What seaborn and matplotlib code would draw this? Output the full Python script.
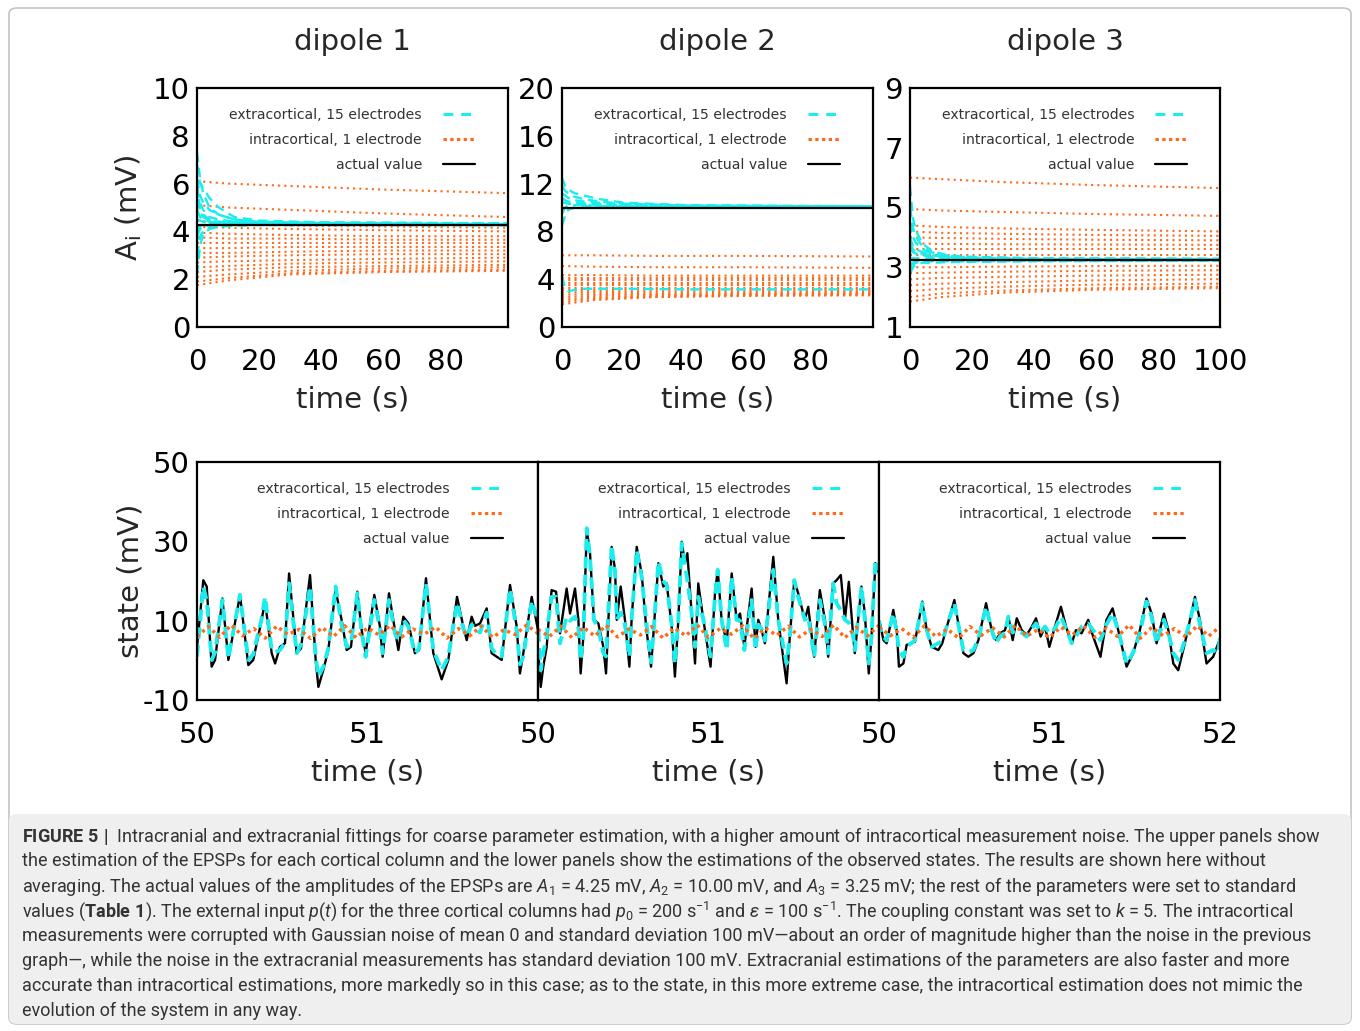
import numpy as np
import pandas as pd
import matplotlib
matplotlib.use("Agg")
import matplotlib.pyplot as plt
import seaborn as sns
from matplotlib.lines import Line2D
from matplotlib.patches import FancyBboxPatch

# ---------------- data ----------------
# upper row: parameter estimates A_i (mV) vs time (s)
actual_A = [4.25, 10.00, 3.25]
fit_t = [0, 1, 2, 4, 7, 12, 20, 40, 100]      # knots for extracortical fits
intra_t = [0, 10, 30, 60, 100]                # knots for intracortical fits

extra_A1 = [
    [7.3, 6.2, 5.6, 5.0, 4.7, 4.5, 4.4, 4.35, 4.32],
    [6.8, 6.0, 5.8, 5.4, 5.0, 4.6, 4.45, 4.38, 4.33],
    [6.2, 5.5, 5.2, 4.9, 4.7, 4.5, 4.4, 4.35, 4.30],
    [6.0, 4.8, 4.6, 4.45, 4.4, 4.4, 4.4, 4.37, 4.34],
    [5.8, 5.2, 4.9, 4.6, 4.5, 4.4, 4.35, 4.32, 4.30],
    [5.3, 4.9, 4.7, 4.5, 4.4, 4.35, 4.32, 4.30, 4.28],
    [4.9, 4.6, 4.5, 4.4, 4.35, 4.32, 4.30, 4.30, 4.28],
    [4.5, 4.45, 4.4, 4.35, 4.33, 4.30, 4.30, 4.28, 4.27],
    [4.0, 4.2, 4.3, 4.35, 4.35, 4.33, 4.30, 4.30, 4.30],
    [3.8, 4.1, 4.2, 4.25, 4.3, 4.3, 4.3, 4.28, 4.27],
    [3.0, 3.8, 4.0, 4.15, 4.2, 4.25, 4.27, 4.27, 4.26],
    [2.2, 3.4, 3.9, 4.1, 4.2, 4.25, 4.27, 4.27, 4.26],
]
extra_A2 = [
    [12.5, 11.8, 11.5, 11.2, 11.0, 10.7, 10.4, 10.2, 10.1],
    [11.8, 11.4, 11.2, 10.9, 10.7, 10.5, 10.3, 10.15, 10.08],
    [11.2, 11.0, 10.8, 10.6, 10.5, 10.4, 10.3, 10.15, 10.08],
    [10.8, 10.6, 10.5, 10.4, 10.35, 10.3, 10.2, 10.1, 10.05],
    [10.4, 10.4, 10.3, 10.3, 10.25, 10.2, 10.15, 10.1, 10.05],
    [9.5, 10.0, 10.2, 10.2, 10.2, 10.15, 10.1, 10.1, 10.05],
    [8.5, 9.3, 9.8, 10.0, 10.1, 10.1, 10.1, 10.05, 10.03],
    [4.2, 3.3, 3.0, 3.1, 3.2, 3.2, 3.2, 3.15, 3.15],
]
extra_A3 = [
    [5.7, 4.6, 4.2, 3.8, 3.55, 3.4, 3.33, 3.30, 3.28],
    [5.0, 4.3, 4.0, 3.7, 3.5, 3.38, 3.32, 3.28, 3.27],
    [4.5, 4.0, 3.8, 3.6, 3.45, 3.35, 3.30, 3.28, 3.27],
    [4.0, 3.7, 3.6, 3.5, 3.4, 3.33, 3.30, 3.27, 3.26],
    [3.8, 3.6, 3.5, 3.45, 3.4, 3.37, 3.35, 3.30, 3.28],
    [3.6, 3.5, 3.45, 3.4, 3.35, 3.30, 3.28, 3.26, 3.26],
    [3.3, 3.3, 3.3, 3.3, 3.3, 3.28, 3.27, 3.26, 3.25],
    [3.1, 3.15, 3.2, 3.2, 3.22, 3.22, 3.22, 3.22, 3.23],
    [3.0, 3.1, 3.15, 3.18, 3.2, 3.2, 3.2, 3.22, 3.23],
    [2.8, 3.0, 3.1, 3.15, 3.15, 3.17, 3.18, 3.2, 3.22],
]

intra_A1 = [
    [6.1, 6.0, 5.9, 5.75, 5.6],
    [5.1, 5.0, 4.9, 4.75, 4.6],
    [4.45, 4.35, 4.25, 4.2, 4.15],
    [4.2, 4.15, 4.1, 4.05, 4.0],
    [3.95, 3.9, 3.85, 3.8, 3.8],
    [3.75, 3.7, 3.7, 3.65, 3.65],
    [3.5, 3.5, 3.5, 3.5, 3.5],
    [3.3, 3.3, 3.35, 3.35, 3.35],
    [3.1, 3.1, 3.15, 3.2, 3.2],
    [2.9, 2.95, 3.0, 3.05, 3.05],
    [2.7, 2.75, 2.8, 2.85, 2.9],
    [2.5, 2.55, 2.65, 2.7, 2.75],
    [2.3, 2.4, 2.5, 2.55, 2.6],
    [2.1, 2.2, 2.35, 2.45, 2.5],
    [1.9, 2.05, 2.25, 2.35, 2.4],
    [1.75, 1.95, 2.2, 2.3, 2.35],
]
intra_A2 = [
    [6.0, 6.0, 5.95, 5.95, 5.9],
    [5.1, 5.05, 5.0, 5.0, 4.95],
    [4.35, 4.35, 4.3, 4.3, 4.3],
    [4.1, 4.1, 4.1, 4.1, 4.1],
    [3.9, 3.9, 3.9, 3.9, 3.9],
    [3.7, 3.7, 3.7, 3.7, 3.7],
    [3.5, 3.5, 3.5, 3.5, 3.5],
    [3.3, 3.3, 3.3, 3.3, 3.3],
    [3.1, 3.1, 3.12, 3.15, 3.15],
    [2.9, 2.92, 2.95, 3.0, 3.0],
    [2.7, 2.75, 2.8, 2.85, 2.9],
    [2.5, 2.6, 2.7, 2.75, 2.8],
    [2.3, 2.45, 2.6, 2.7, 2.75],
    [2.1, 2.35, 2.55, 2.65, 2.7],
    [1.9, 2.25, 2.5, 2.6, 2.65],
]
intra_A3 = [
    [6.0, 5.95, 5.85, 5.75, 5.65],
    [4.95, 4.9, 4.85, 4.78, 4.72],
    [4.4, 4.35, 4.3, 4.25, 4.2],
    [4.2, 4.15, 4.12, 4.08, 4.05],
    [4.0, 3.98, 3.95, 3.92, 3.9],
    [3.8, 3.78, 3.77, 3.76, 3.75],
    [3.6, 3.6, 3.6, 3.6, 3.6],
    [3.4, 3.4, 3.4, 3.4, 3.4],
    [3.0, 3.0, 3.02, 3.04, 3.05],
    [2.8, 2.82, 2.85, 2.88, 2.9],
    [2.6, 2.64, 2.68, 2.72, 2.75],
    [2.4, 2.45, 2.5, 2.56, 2.6],
    [2.2, 2.28, 2.35, 2.42, 2.45],
    [2.0, 2.12, 2.22, 2.3, 2.35],
    [1.85, 2.0, 2.15, 2.25, 2.3],
]

# lower row: observed state (mV), time offset from 50 s
state_t1 = [0.000, 0.008, 0.037, 0.057, 0.086, 0.106, 0.149, 0.184, 0.252, 0.301,
            0.330, 0.379, 0.399, 0.438, 0.458, 0.487, 0.516, 0.540, 0.585, 0.610,
            0.663, 0.696, 0.712, 0.741, 0.770, 0.813, 0.848, 0.878, 0.903, 0.940,
            0.966, 0.989, 1.040, 1.073, 1.089, 1.126, 1.161, 1.181, 1.210, 1.240,
            1.278, 1.302, 1.343, 1.386, 1.435, 1.474, 1.525, 1.562, 1.582, 1.611,
            1.630, 1.660, 1.699, 1.728, 1.758, 1.787, 1.836, 1.875, 1.894, 1.914,
            1.963, 2.000]
actual_1 = [3.4, 6.8, 20.2, 18.6, -1.6, 0.1, 15.6, 0.1, 16.5, -1.2,
            0.1, 10.2, 14.8, 1.8, -0.8, 3.4, 4.3, 21.9, 1.8, 3.0,
            21.5, 0.1, -6.7, -2.4, 2.6, 17.7, 10.2, 2.6, 3.4, 17.3,
            7.6, 1.8, 16.5, 8.5, 0.9, 16.9, 7.6, 2.6, 11.0, 9.3,
            1.8, 2.6, 20.7, 1.8, -4.8, 0.1, 16.0, 8.5, 5.1, 11.0,
            8.7, 9.3, 13.1, 1.8, 0.9, 0.1, 19.0, 8.5, -3.3, 1.8,
            16.0, 7.6]
extra_1 = [0.9, 5.0, 18.6, 15.0, 0.1, 2.0, 15.2, 0.5, 16.5, 0.1,
           1.5, 10.5, 16.0, 2.6, 2.0, 2.6, 4.5, 19.4, 1.8, 4.0,
           18.6, 1.0, -4.1, -1.6, 3.0, 18.6, 9.0, 3.4, 4.0, 16.9,
           7.0, 0.9, 15.2, 8.0, 1.8, 15.2, 6.8, 5.0, 10.2, 8.5,
           1.8, 3.0, 19.4, 2.6, -2.5, 0.9, 14.5, 8.0, 6.0, 9.0,
           8.0, 7.0, 12.0, 3.0, 1.5, 1.0, 18.0, 7.5, -1.0, 1.0,
           15.0, 10.0]

state_t2 = [0.002, 0.016, 0.031, 0.051, 0.061, 0.080, 0.106, 0.129, 0.168, 0.188,
            0.217, 0.237, 0.250, 0.266, 0.286, 0.305, 0.328, 0.354, 0.383, 0.399,
            0.432, 0.452, 0.462, 0.485, 0.510, 0.536, 0.549, 0.579, 0.608, 0.634,
            0.663, 0.680, 0.706, 0.735, 0.755, 0.784, 0.803, 0.823, 0.843, 0.862,
            0.876, 0.901, 0.921, 0.940, 0.970, 1.012, 1.038, 1.054, 1.077, 1.107,
            1.136, 1.165, 1.185, 1.210, 1.253, 1.276, 1.292, 1.311, 1.331, 1.380,
            1.409, 1.458, 1.477, 1.503, 1.526, 1.565, 1.585, 1.620, 1.653, 1.683,
            1.702, 1.731, 1.751, 1.776, 1.800, 1.823, 1.849, 1.858, 1.897, 1.917,
            1.940, 1.956, 1.979, 2.000]
actual_2 = [1.8, -6.7, -1.6, 3.4, 9.3, 17.7, 17.3, 6.8, 18.1, 11.8,
            18.1, 10.2, -3.3, 6.0, 32.9, 27.0, 10.2, 9.3, 3.4, -3.3,
            28.6, 22.8, 10.2, 18.6, 10.2, -1.6, 10.2, 28.6, 21.9, 8.5,
            -1.6, 8.5, 24.5, 18.6, 19.4, 8.5, -4.1, 10.2, 29.9, 24.5,
            27.0, 11.8, -0.8, 19.4, 10.2, -1.6, 16.9, 22.8, 10.2, 4.3,
            21.9, 10.2, 11.8, 3.4, 18.1, 3.4, 10.2, 7.6, 4.3, 26.1,
            10.2, -5.8, 6.0, 20.2, 16.9, 10.2, 13.5, 0.9, 17.7, 10.2,
            0.9, 19.4, 20.2, 21.5, 10.2, 19.8, 6.0, 1.8, 18.6, 11.8,
            -3.3, 6.0, 24.5, 22.0]
extra_2 = [7.6, -2.5, 2.0, 6.0, 10.2, 16.0, 16.0, 4.3, 11.0, 10.0,
           11.0, 8.0, 0.1, 6.0, 33.3, 26.0, 10.2, 8.0, 1.8, 1.0,
           29.0, 22.0, 10.2, 12.0, 9.0, 0.9, 10.2, 27.8, 21.0, 10.2,
           -0.5, 8.5, 24.9, 20.0, 19.0, 9.0, -0.8, 10.2, 29.5, 24.0,
           20.2, 12.0, 3.4, 16.0, 10.2, 1.0, 16.0, 22.8, 10.2, 2.6,
           21.0, 10.2, 10.0, 2.6, 15.2, 2.6, 9.0, 8.0, 5.0, 22.8,
           10.2, -0.8, 6.0, 20.2, 16.0, 10.2, 11.0, 0.9, 15.2, 9.0,
           1.8, 19.4, 14.4, 12.7, 10.2, 9.5, 6.0, 2.6, 18.6, 10.2,
           -0.8, 6.0, 25.3, 22.8]

state_t3 = [0.000, 0.006, 0.026, 0.045, 0.084, 0.104, 0.117, 0.143, 0.162, 0.211,
            0.254, 0.280, 0.309, 0.348, 0.371, 0.442, 0.475, 0.495, 0.524, 0.554,
            0.583, 0.628, 0.661, 0.686, 0.710, 0.739, 0.759, 0.784, 0.808, 0.837,
            0.866, 0.896, 0.921, 0.948, 0.974, 0.999, 1.032, 1.067, 1.097, 1.130,
            1.155, 1.188, 1.227, 1.256, 1.299, 1.334, 1.370, 1.403, 1.452, 1.491,
            1.530, 1.569, 1.599, 1.628, 1.671, 1.697, 1.726, 1.755, 1.794, 1.824,
            1.853, 1.882, 1.921, 1.960, 1.990, 2.000]
actual_3 = [10.0, 9.3, 5.1, 4.3, 12.7, 7.6, -1.6, -0.8, 3.9, 4.7,
            14.8, 7.6, 3.4, 2.6, 4.3, 15.2, 6.8, 1.8, 0.9, 1.8,
            5.1, 14.4, 7.6, 5.1, 6.8, 7.6, 11.0, 5.1, 10.6, 7.6,
            6.4, 8.5, 10.6, 6.0, 8.5, 3.4, 8.5, 13.5, 8.5, 4.3,
            7.6, 6.8, 10.2, 6.0, 0.9, 10.2, 13.1, 7.6, -1.6, 1.8,
            7.6, 15.6, 11.8, 4.3, 11.8, 7.6, -0.8, -2.5, 4.3, 10.2,
            16.0, 10.2, -0.8, 0.9, 4.3, 5.1]
extra_3 = [10.0, 8.0, 6.0, 5.0, 11.8, 7.0, 2.6, 0.9, 3.4, 5.1,
           14.4, 7.6, 3.4, 4.3, 5.0, 14.4, 6.8, 2.6, 2.0, 2.6,
           5.5, 13.5, 7.6, 4.3, 6.0, 7.0, 11.0, 7.0, 7.6, 7.0,
           6.0, 8.0, 9.3, 7.0, 8.5, 6.8, 8.0, 11.0, 8.0, 4.3,
           6.0, 8.5, 9.3, 7.6, 5.1, 9.0, 11.8, 7.6, -0.8, 2.0,
           6.8, 14.8, 11.0, 4.3, 10.2, 7.0, 1.8, 0.1, 5.0, 10.0,
           15.2, 9.0, 1.8, 2.6, 1.8, 6.0]

# intracortical state estimate, read every 1/15 s
intra_step = 2 / 30
intra_1 = [6.0, 8.5, 5.8, 8.9, 6.2, 8.0, 5.6, 8.6, 6.5, 7.8, 5.5, 8.3, 6.0, 8.7, 5.7, 8.2,
           6.4, 8.8, 5.9, 7.9, 6.6, 8.4, 5.6, 8.0, 6.2, 8.6, 5.8, 7.7, 6.5, 8.9, 6.8]
intra_2 = [7.8, 6.0, 8.6, 5.7, 8.3, 6.1, 8.8, 5.9, 7.9, 6.4, 8.5, 5.6, 8.2, 6.2, 8.9, 5.8,
           8.0, 6.6, 8.7, 5.5, 8.1, 6.3, 8.6, 5.9, 7.8, 6.0, 8.9, 5.7, 8.3, 6.2, 8.8]
intra_3 = [8.4, 6.2, 8.0, 5.8, 8.7, 6.0, 7.9, 5.6, 8.5, 6.3, 8.2, 5.9, 8.8, 6.1, 7.8, 5.7,
           8.4, 6.4, 8.6, 5.8, 8.1, 6.0, 8.9, 5.6, 8.3, 6.2, 8.0, 5.9, 8.7, 6.1, 8.5]

titles = ["dipole 1", "dipole 2", "dipole 3"]
labels = ["extracortical, 15 electrodes", "intracortical, 1 electrode", "actual value"]

CYAN = "#1aeded"
ORANGE = "#ff6a1a"
TEXT = "#333333"

# ---------------- style ----------------
sns.set_theme(style="white")
plt.rcParams["font.family"] = ["DejaVu Sans"]
plt.rcParams["axes.unicode_minus"] = False
plt.rcParams["mathtext.fontset"] = "custom"
plt.rcParams["mathtext.rm"] = "Roboto"
plt.rcParams["mathtext.it"] = "Roboto:italic"
plt.rcParams["mathtext.bf"] = "Roboto:bold"

fig = plt.figure(figsize=(13.6, 10.31), dpi=100)
W, H = 1360, 1031


def box(x0, y0, x1, y1):
    # pixel box (top-left origin) -> figure fraction rect
    return [x0 / W, 1 - y1 / H, (x1 - x0) / W, (y1 - y0) / H]


def long_frame(t, traces):
    rows = []
    for k, tr in enumerate(traces):
        for tt, vv in zip(t, tr):
            rows.append({"t": tt, "v": vv, "trace": k})
    return pd.DataFrame(rows)


def style_axes(ax):
    for s in ax.spines.values():
        s.set_color("black")
        s.set_linewidth(1.6)
    ax.tick_params(direction="in", length=8, width=1.4, top=False, right=False,
                   labelsize=21, colors="black")
    ax.tick_params(axis="x", pad=15)
    ax.tick_params(axis="y", pad=5)
    ax.set_facecolor("white")


def add_legend(ax, x, y):
    handles = [Line2D([], [], color=CYAN, lw=2.2, linestyle=(0, (3.2, 2.6))),
               Line2D([], [], color=ORANGE, lw=2.2, linestyle=(0, (1.1, 1.1))),
               Line2D([], [], color="black", lw=1.6)]
    ax.legend(handles, labels, loc="upper right", bbox_to_anchor=(x, y),
              frameon=False, markerfirst=False, fontsize=10.1, handlelength=2.3,
              handletextpad=1.5, labelspacing=0.77, borderaxespad=0, borderpad=0,
              labelcolor=TEXT)


# ---------------- upper row ----------------
top_boxes = [box(197, 88, 508, 327), box(562, 88, 873, 327), box(910, 88, 1220, 327)]
extras = [extra_A1, extra_A2, extra_A3]
intras = [intra_A1, intra_A2, intra_A3]
ylims = [(0, 10), (0, 20), (1, 9)]
yticks = [[0, 2, 4, 6, 8, 10], [0, 4, 8, 12, 16, 20], [1, 3, 5, 7, 9]]

for i in range(3):
    ax = fig.add_axes(top_boxes[i])
    sns.lineplot(data=long_frame(intra_t, intras[i]), x="t", y="v", units="trace",
                 estimator=None, color=ORANGE, lw=1.5, linestyle=(0, (1, 2.0)),
                 legend=False, ax=ax)
    sns.lineplot(data=long_frame(fit_t, extras[i]), x="t", y="v", units="trace",
                 estimator=None, color=CYAN, lw=1.7, linestyle=(0, (4, 2.5)),
                 legend=False, ax=ax)
    ax.axhline(actual_A[i], color="black", lw=1.6)
    ax.set_xlim(0, 100)
    ax.set_ylim(*ylims[i])
    ax.set_yticks(yticks[i])
    ax.set_xticks([0, 20, 40, 60, 80, 100] if i == 2 else [0, 20, 40, 60, 80])
    style_axes(ax)
    ax.set_xlabel("time (s)", fontsize=21, labelpad=7)
    ax.set_ylabel("")
    ax.set_title(titles[i], fontsize=21, pad=27)
    if i == 0:
        ax.set_ylabel(r"A$_\mathregular{i}$ (mV)", fontsize=21)
        ax.yaxis.set_label_coords(-0.17, 0.5)
    add_legend(ax, 0.895, 0.915)

# ---------------- lower row ----------------
bot_boxes = [box(197, 462, 538, 700), box(538, 462, 879, 700), box(879, 462, 1220, 700)]
state_ts = [state_t1, state_t2, state_t3]
actuals = [actual_1, actual_2, actual_3]
extras_s = [extra_1, extra_2, extra_3]
intras_s = [intra_1, intra_2, intra_3]

for i in range(3):
    ax = fig.add_axes(bot_boxes[i])
    t = 50 + np.array(state_ts[i])
    ti = 50 + intra_step * np.arange(len(intras_s[i]))
    df = pd.DataFrame({"t": t, "actual": actuals[i], "extra": extras_s[i]})
    sns.lineplot(data=df, x="t", y="actual", color="black", lw=1.7, ax=ax)
    sns.lineplot(data=df, x="t", y="extra", color=CYAN, lw=2.8,
                 linestyle=(0, (3, 1.6)), ax=ax)
    sns.lineplot(x=ti, y=intras_s[i], color=ORANGE, lw=2.5,
                 linestyle=(0, (0.9, 1.1)), ax=ax)
    ax.set_xlim(50, 52)
    ax.set_ylim(-10, 50)
    ax.set_xticks([50, 51, 52] if i == 2 else [50, 51])
    style_axes(ax)
    ax.set_xlabel("time (s)", fontsize=21, labelpad=7)
    if i == 0:
        ax.set_yticks([-10, 10, 30, 50])
        ax.set_ylabel("state (mV)", fontsize=21)
        ax.yaxis.set_label_coords(-0.155, 0.5)
    else:
        ax.set_yticks([])
        ax.set_ylabel("")
    add_legend(ax, 0.897, 0.915)

# ---------------- frame and caption ----------------
frame = FancyBboxPatch((9 / W, 7 / H), 1342 / W, 1016 / H,
                       boxstyle="round,pad=0,rounding_size=0.006",
                       transform=fig.transFigure, facecolor="none",
                       edgecolor="#c4c4c4", lw=1.2, zorder=0)
fig.patches.append(frame)
cap_bg = FancyBboxPatch((9 / W, 7 / H), 1342 / W, (1025 - 815) / H,
                        boxstyle="round,pad=0,rounding_size=0.006",
                        transform=fig.transFigure, facecolor="#efefef",
                        edgecolor="none", zorder=0)
fig.patches.append(cap_bg)

caption = [
    r"$\mathbf{FIGURE\ 5\ |}$  Intracranial and extracranial fittings for coarse parameter estimation, "
    r"with a higher amount of intracortical measurement noise. The upper panels show",
    "the estimation of the EPSPs for each cortical column and the lower panels show the "
    "estimations of the observed states. The results are shown here without",
    r"averaging. The actual values of the amplitudes of the EPSPs are $A_1$ = 4.25 mV, "
    r"$A_2$ = 10.00 mV, and $A_3$ = 3.25 mV; the rest of the parameters were set to standard",
    r"values ($\mathbf{Table\ 1}$). The external input $p$($t$) for the three cortical columns had "
    r"$p_0$ = 200 s$^{-1}$ and $\epsilon$ = 100 s$^{-1}$. The coupling constant was set to $k$ = 5. "
    r"The intracortical",
    "measurements were corrupted with Gaussian noise of mean 0 and standard deviation 100 mV\u2014about "
    "an order of magnitude higher than the noise in the previous",
    "graph\u2014, while the noise in the extracranial measurements has standard deviation 100 mV. "
    "Extracranial estimations of the parameters are also faster and more",
    "accurate than intracortical estimations, more markedly so in this case; as to the state, in "
    "this more extreme case, the intracortical estimation does not mimic the",
    "evolution of the system in any way.",
]
for k, line in enumerate(caption):
    fig.text(22 / W, 1 - (836 + 25 * k) / H, line, family=["Roboto", "DejaVu Sans"],
             fontsize=12.95, color=TEXT, ha="left", va="center")

fig.savefig("out.png", dpi=100, facecolor="white")
